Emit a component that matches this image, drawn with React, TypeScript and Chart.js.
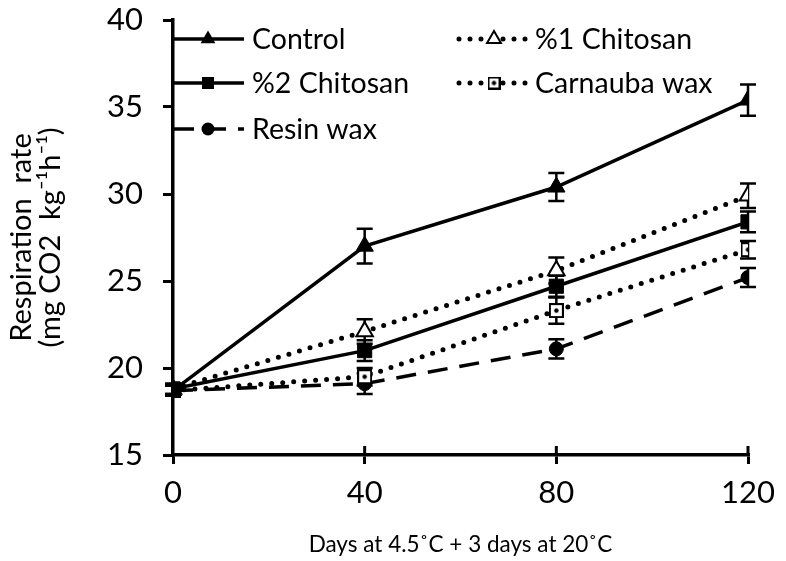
import React, { useEffect, useRef } from 'react';
import { Chart, registerables } from 'chart.js';

Chart.register(...registerables);

// ---------- data ----------
const days = [0, 40, 80, 120];
const xTickStep = 40;
const yMin = 15;
const yMax = 40;
const yTickStep = 5;
const seriesNames = ['Control', '%1 Chitosan', '%2 Chitosan', 'Carnauba wax', 'Resin wax'];
const control = [18.7, 27.0, 30.4, 35.4];
const controlErr = [0.3, 1.0, 0.8, 0.9];
const chitosan1 = [18.8, 22.1, 25.6, 29.9];
const chitosan1Err = [0.3, 0.7, 0.75, 0.7];
const chitosan2 = [18.8, 21.0, 24.7, 28.4];
const chitosan2Err = [0.3, 0.6, 0.6, 0.6];
const carnauba = [18.7, 19.5, 23.3, 26.8];
const carnaubaErr = [0.3, 0.5, 0.75, 0.5];
const resin = [18.7, 19.1, 21.1, 25.2];
const resinErr = [0.3, 0.6, 0.55, 0.55];
const xTitle = 'Days at 4.5˚C + 3 days at 20˚C';
const yTitle = ['Respiration  rate', '(mg CO2  kg⁻¹h⁻¹)'];

const FONT = 'Lato';

// ---------- styles ----------
type Kind = 'triFilled' | 'triOpen' | 'sqFilled' | 'sqDot' | 'circle';
const SOLID: number[] = [];
const DOTTED = [0, 11];
const DASHED = [20, 12];
const styles: { kind: Kind; dash: number[]; width: number; cap: CanvasLineCap }[] = [
  { kind: 'triFilled', dash: SOLID, width: 3.5, cap: 'butt' },
  { kind: 'triOpen', dash: DOTTED, width: 5, cap: 'round' },
  { kind: 'sqFilled', dash: SOLID, width: 3.5, cap: 'butt' },
  { kind: 'sqDot', dash: DOTTED, width: 5, cap: 'round' },
  { kind: 'circle', dash: DASHED, width: 3.5, cap: 'butt' },
];

function makeSqDot(size: number): HTMLCanvasElement {
  const c = document.createElement('canvas');
  c.width = size;
  c.height = size;
  const g = c.getContext('2d')!;
  g.fillStyle = '#fff';
  g.fillRect(1, 1, size - 2, size - 2);
  g.strokeStyle = '#000';
  g.lineWidth = 2;
  g.strokeRect(1, 1, size - 2, size - 2);
  g.fillStyle = '#000';
  g.beginPath();
  g.arc(size / 2, size / 2, 2.2, 0, Math.PI * 2);
  g.fill();
  return c;
}

function drawMarker(ctx: CanvasRenderingContext2D, kind: Kind, x: number, y: number, sqDot: HTMLCanvasElement) {
  ctx.save();
  ctx.setLineDash([]);
  ctx.strokeStyle = '#000';
  ctx.fillStyle = '#000';
  ctx.lineWidth = 2;
  const tri = (r: number) => {
    ctx.beginPath();
    for (let i = 0; i < 3; i++) {
      const a = (i * 2 * Math.PI) / 3;
      const px = x + Math.sin(a) * r;
      const py = y - Math.cos(a) * r;
      if (i === 0) ctx.moveTo(px, py);
      else ctx.lineTo(px, py);
    }
    ctx.closePath();
  };
  if (kind === 'triFilled') {
    tri(8.5);
    ctx.fill();
  } else if (kind === 'triOpen') {
    tri(8);
    ctx.fillStyle = '#fff';
    ctx.fill();
    ctx.stroke();
  } else if (kind === 'sqFilled') {
    ctx.fillRect(x - 6, y - 6, 12, 12);
  } else if (kind === 'sqDot') {
    ctx.drawImage(sqDot, x - sqDot.width / 2, y - sqDot.height / 2);
  } else {
    ctx.beginPath();
    ctx.arc(x, y, 6.5, 0, Math.PI * 2);
    ctx.fill();
  }
  ctx.restore();
}

export default function App() {
  const ref = useRef<HTMLCanvasElement | null>(null);

  useEffect(() => {
    if (!ref.current) return;
    const sqDot = makeSqDot(15);
    const sqDotLegend = makeSqDot(13);
    const values = [control, chitosan1, chitosan2, carnauba, resin];
    const errors = [controlErr, chitosan1Err, chitosan2Err, carnaubaErr, resinErr];

    const pointOpts = (k: Kind) => {
      switch (k) {
        case 'triFilled':
          return { pointStyle: 'triangle', pointRadius: 10, pointBackgroundColor: '#000', pointBorderWidth: 1 };
        case 'triOpen':
          return { pointStyle: 'triangle', pointRadius: 9.5, pointBackgroundColor: '#fff', pointBorderWidth: 2 };
        case 'sqFilled':
          return { pointStyle: 'rect', pointRadius: 10, pointBackgroundColor: '#000', pointBorderWidth: 1 };
        case 'sqDot':
          return { pointStyle: sqDot, pointRadius: 8, pointBackgroundColor: '#fff', pointBorderWidth: 2 };
        default:
          return { pointStyle: 'circle', pointRadius: 7, pointBackgroundColor: '#000', pointBorderWidth: 1 };
      }
    };

    const datasets = seriesNames.map((name, i) => ({
      label: name,
      data: days.map((d, j) => ({ x: d, y: values[i][j] })),
      borderColor: '#000',
      borderWidth: styles[i].width,
      borderDash: styles[i].dash,
      borderCapStyle: styles[i].cap,
      pointBorderColor: '#000',
      fill: false,
      tension: 0,
      ...pointOpts(styles[i].kind),
    }));

    const errorPlugin = {
      id: 'errorBars',
      beforeDatasetsDraw(chart: any) {
        const ctx = chart.ctx as CanvasRenderingContext2D;
        const xs = chart.scales.x;
        const ys = chart.scales.y;
        ctx.save();
        ctx.strokeStyle = '#000';
        ctx.lineWidth = 2.5;
        ctx.setLineDash([]);
        values.forEach((vals, i) => {
          vals.forEach((v, j) => {
            const e = errors[i][j];
            const x = xs.getPixelForValue(days[j]);
            const y1 = ys.getPixelForValue(v + e);
            const y2 = ys.getPixelForValue(v - e);
            ctx.beginPath();
            ctx.moveTo(x, y1);
            ctx.lineTo(x, y2);
            ctx.moveTo(x - 8, y1);
            ctx.lineTo(x + 8, y1);
            ctx.moveTo(x - 8, y2);
            ctx.lineTo(x + 8, y2);
            ctx.stroke();
          });
        });
        ctx.restore();
      },
      afterDraw(chart: any) {
        const ctx = chart.ctx as CanvasRenderingContext2D;
        const xs = chart.scales.x;
        const ys = chart.scales.y;
        // inner part of x ticks
        ctx.save();
        ctx.strokeStyle = '#000';
        ctx.lineWidth = 3;
        days.forEach((d) => {
          if (d === 0) return;
          const x = xs.getPixelForValue(d);
          ctx.beginPath();
          ctx.moveTo(x, ys.bottom);
          ctx.lineTo(x, ys.bottom - 9);
          ctx.stroke();
        });
        ctx.restore();

        // legend
        const cols = [
          { x0: 174, x1: 244, mx: 208, tx: 252 },
          { x0: 459, x1: 526, mx: 494, tx: 535 },
        ];
        const rowsY = [39, 83, 129];
        const place = [
          [0, 0],
          [1, 0],
          [0, 1],
          [1, 1],
          [0, 2],
        ];
        ctx.save();
        ctx.font = `28.5px ${FONT}`;
        ctx.textBaseline = 'middle';
        ctx.fillStyle = '#000';
        seriesNames.forEach((name, i) => {
          const c = cols[place[i][0]];
          const y = rowsY[place[i][1]];
          const st = styles[i];
          ctx.save();
          ctx.strokeStyle = '#000';
          ctx.lineWidth = st.width;
          ctx.lineCap = st.cap;
          ctx.setLineDash(st.dash);
          ctx.beginPath();
          ctx.moveTo(c.x0, y);
          ctx.lineTo(c.x1, y);
          ctx.stroke();
          ctx.restore();
          drawMarker(ctx, st.kind, c.mx, y, sqDotLegend);
          ctx.fillText(name, c.tx, y + 1);
        });
        ctx.restore();
      },
    };

    const chart = new Chart(ref.current, {
      type: 'line',
      data: { datasets: datasets as any },
      plugins: [errorPlugin],
      options: {
        animation: false,
        responsive: false,
        maintainAspectRatio: false,
        layout: { padding: { top: 20, right: 38, left: 0, bottom: 0 } },
        plugins: { legend: { display: false }, tooltip: { enabled: false } },
        scales: {
          x: {
            type: 'linear',
            min: 0,
            max: 120,
            ticks: { stepSize: xTickStep, color: '#000', font: { family: FONT, size: 31, lineHeight: 1.2 }, padding: 10 },
            grid: { drawOnChartArea: false, color: '#000', lineWidth: 3, tickLength: 9 },
            border: { color: '#000', width: 3.5 },
            title: {
              display: true,
              text: xTitle,
              color: '#000',
              font: { family: FONT, size: 22.5 },
              padding: { top: 0, bottom: 3 },
            },
            afterFit: (s: any) => {
              s.height = 106;
              s.paddingLeft = 0;
              s.paddingRight = 0;
            },
          },
          y: {
            type: 'linear',
            min: yMin,
            max: yMax,
            ticks: { stepSize: yTickStep, color: '#000', font: { family: FONT, size: 31, lineHeight: 1.0 }, padding: 20 },
            grid: { drawOnChartArea: false, color: '#000', lineWidth: 3, tickLength: 10 },
            border: { color: '#000', width: 3.5 },
            title: {
              display: true,
              text: yTitle,
              color: '#000',
              font: { family: FONT, size: 29, lineHeight: 1.0 },
              padding: { top: 7.5, bottom: 0 },
            },
            afterFit: (s: any) => {
              s.width = 173;
              s.paddingTop = 0;
              s.paddingBottom = 0;
            },
          },
        },
      } as any,
    });
    return () => chart.destroy();
  }, []);

  return (
    <div style={{ position: 'fixed', left: 0, top: 0, width: 786, height: 561, background: '#fff' }}>
      <canvas ref={ref} width={786} height={561} style={{ width: 786, height: 561, display: 'block' }} />
    </div>
  );
}
